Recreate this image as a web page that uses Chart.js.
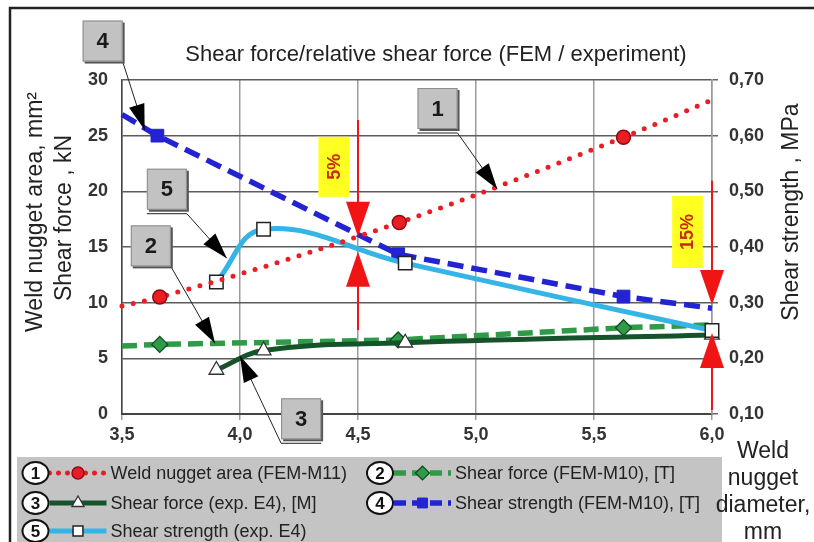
<!DOCTYPE html>
<html>
<head>
<meta charset="utf-8">
<script src="https://cdn.jsdelivr.net/npm/chart.js@4.4.1/dist/chart.umd.min.js"></script>
<style>
  html, body { margin: 0; padding: 0; background: #fff; }
  #wrap { width: 814px; height: 542px; }
</style>
</head>
<body>
<div id="wrap"><canvas id="shearChart" width="814" height="542"></canvas></div>
<script>
// weld nugget diameter (mm) -> values
const areaX = [3.5, 3.66, 4.675, 5.625, 6.0];
const areaY = [9.7, 10.5, 17.2, 24.85, 28.2];            // mm2, FEM-M11
const forceFemX = [3.5, 3.66, 4.67, 5.625, 6.0];
const forceFemY = [6.1, 6.25, 6.65, 7.75, 8.0];           // kN, FEM-M10
const forceExpX = [3.9, 4.1, 4.7, 6.0];
const forceExpY = [3.95, 5.7, 6.4, 7.1];                  // kN, exp. E4
const strengthFemX = [3.5, 3.65, 4.67, 5.625, 6.0];
const strengthFemY = [0.638, 0.60, 0.387, 0.311, 0.29];   // MPa, FEM-M10
const strengthExpX = [3.9, 4.1, 4.7, 6.0];
const strengthExpY = [0.337, 0.432, 0.371, 0.25];         // MPa, exp. E4

const xTicks = [3.5, 4.0, 4.5, 5.0, 5.5, 6.0];
const leftTicks = [0, 5, 10, 15, 20, 25, 30];
const rightTicks = [0.1, 0.2, 0.3, 0.4, 0.5, 0.6, 0.7];

const FONT = '"Liberation Sans", Arial, sans-serif';
const comma = (v, d) => v.toFixed(d).replace('.', ',');
const pts = (xs, ys) => xs.map((x, i) => ({ x: x, y: ys[i] }));

const RED = '#ec1c24', GREEN = '#2f9a48', DKGREEN = '#17532a', BLUE = '#2323d2', LBLUE = '#35b4e6';

// callout boxes (numbers) and the gap arrows, placed in data units
const callouts = [
  { n: '4', at: [3.418, 33.5], tip: [3.596, 25.5], from: 'br', shelf: false },
  { n: '1', at: [4.837, 27.44], tip: [5.09, 20.2], from: 'br', shelf: true },
  { n: '5', at: [3.69, 20.19], tip: [3.944, 13.99], from: 'br', shelf: true },
  { n: '2', at: [3.622, 15.1], tip: [3.894, 6.35], from: 'br', shelf: false },
  { n: '3', at: [4.259, -0.43], tip: [4.0, 5.2], from: 'bl', shelf: true }
];
const gapArrows = [
  { x: 4.5, top: 26.4, upTip: 15.93, lowTip: 14.58, bottom: 7.55, label: '5%', box: [4.332, 4.464, 24.9, 19.5] },
  { x: 6.0, top: 20.96, upTip: 9.79, lowTip: 7.28, bottom: 0.36, label: '15%', box: [5.831, 5.961, 19.58, 13.11] }
];

const datasets = [
  {
    label: 'Weld nugget area (FEM-M11)', data: pts(areaX, areaY), yAxisID: 'y', order: 0,
    borderColor: RED, borderWidth: 5, borderDash: [0, 11.5], borderCapStyle: 'round',
    cubicInterpolationMode: 'monotone',
    pointStyle: 'circle', pointRadius: [0, 7, 7, 7, 0], pointBackgroundColor: RED,
    pointBorderColor: '#8a0c10', pointBorderWidth: 1.5
  },
  {
    label: 'Shear force (FEM-M10), [T]', data: pts(forceFemX, forceFemY), yAxisID: 'y', order: 3,
    borderColor: GREEN, borderWidth: 5.5, borderDash: [15, 7], tension: 0,
    pointStyle: 'rectRot', pointRadius: [0, 8, 8, 8, 0], pointBackgroundColor: GREEN,
    pointBorderColor: '#0e4a1e', pointBorderWidth: 1.2
  },
  {
    label: 'Shear force (exp. E4), [M]', data: pts(forceExpX, forceExpY), yAxisID: 'y', order: 2,
    borderColor: DKGREEN, borderWidth: 5, tension: 0.4,
    pointStyle: 'triangle', pointRadius: 8.5, pointBackgroundColor: '#fff',
    pointBorderColor: '#333', pointBorderWidth: 1.3
  },
  {
    label: 'Shear strength (FEM-M10), [T]', data: pts(strengthFemX, strengthFemY), yAxisID: 'y2', order: 4,
    borderColor: BLUE, borderWidth: 5.5, borderDash: [16, 8], tension: 0,
    pointStyle: 'rect', pointRadius: [0, 9, 9, 9, 0], pointBackgroundColor: BLUE,
    pointBorderColor: BLUE, pointBorderWidth: 1
  },
  {
    label: 'Shear strength (exp. E4)', data: pts(strengthExpX, strengthExpY), yAxisID: 'y2', order: 1,
    borderColor: LBLUE, borderWidth: 5, tension: 0.4,
    pointStyle: 'rect', pointRadius: 9.5, pointBackgroundColor: '#fff',
    pointBorderColor: '#222', pointBorderWidth: 1.5
  }
];
datasets.forEach(d => { d.clip = false; d.fill = false; });

const decor = {
  id: 'decor',
  afterDraw(chart) {
    const ctx = chart.ctx, sx = chart.scales.x, sy = chart.scales.y;
    const px = v => sx.getPixelForValue(v), py = v => sy.getPixelForValue(v);

    function head(tx, ty, fx, fy, len, half, color) {
      const a = Math.atan2(ty - fy, tx - fx), c = Math.cos(a), s = Math.sin(a);
      ctx.beginPath();
      ctx.moveTo(tx, ty);
      ctx.lineTo(tx - len * c + half * s, ty - len * s - half * c);
      ctx.lineTo(tx - len * c - half * s, ty - len * s + half * c);
      ctx.closePath();
      ctx.fillStyle = color;
      ctx.fill();
    }
    function vText(t, x, y) {
      ctx.save(); ctx.translate(x, y); ctx.rotate(-Math.PI / 2);
      ctx.textAlign = 'center'; ctx.fillText(t, 0, 0); ctx.restore();
    }

    ctx.save();
    // frame
    ctx.strokeStyle = '#222'; ctx.lineWidth = 2.5;
    ctx.beginPath(); ctx.moveTo(10, 542); ctx.lineTo(10, 8); ctx.lineTo(814, 8); ctx.stroke();

    // legend block
    ctx.fillStyle = '#c4c4c4';
    ctx.fillRect(17, 457, 705, 90);
    const entries = [
      { n: '1', ds: 0, cx: 35.5, y: 473 },
      { n: '3', ds: 2, cx: 35.5, y: 503 },
      { n: '5', ds: 4, cx: 35.5, y: 531 },
      { n: '2', ds: 1, cx: 380, y: 473 },
      { n: '4', ds: 3, cx: 380, y: 503 }
    ];
    entries.forEach(e => {
      const d = datasets[e.ds];
      const x0 = e.cx + 14, x1 = e.cx + 71;
      ctx.save();
      ctx.strokeStyle = d.borderColor; ctx.lineWidth = d.borderWidth;
      ctx.setLineDash(d.borderDash ? (e.ds === 0 ? [0, 9] : [12, 6]) : []);
      ctx.lineCap = d.borderCapStyle || 'butt';
      ctx.beginPath(); ctx.moveTo(x0, e.y); ctx.lineTo(x1, e.y); ctx.stroke();
      ctx.restore();
      ctx.fillStyle = d.pointBackgroundColor; ctx.strokeStyle = d.pointBorderColor;
      ctx.lineWidth = d.pointBorderWidth;
      Chart.helpers.drawPoint(ctx, { pointStyle: d.pointStyle, radius: d.pointStyle === 'circle' ? 6 : 7, rotation: 0, borderWidth: d.pointBorderWidth }, (x0 + x1) / 2, e.y);
      ctx.beginPath(); ctx.ellipse(e.cx, e.y, 13, 11, 0, 0, Math.PI * 2);
      ctx.fillStyle = '#fff'; ctx.fill();
      ctx.strokeStyle = '#111'; ctx.lineWidth = 2; ctx.stroke();
      ctx.fillStyle = '#111'; ctx.font = 'bold 17px ' + FONT;
      ctx.textAlign = 'center'; ctx.textBaseline = 'middle';
      ctx.fillText(e.n, e.cx, e.y + 1);
      ctx.fillStyle = '#222'; ctx.font = '18px ' + FONT; ctx.textAlign = 'left';
      ctx.fillText(d.label, x1 + 4, e.y + 1);
    });

    // titles
    ctx.fillStyle = '#222';
    ctx.font = '22px ' + FONT;
    ctx.textAlign = 'center'; ctx.textBaseline = 'alphabetic';
    ctx.fillText('Shear force/relative shear force (FEM / experiment)', 436, 61);
    ctx.font = '23px ' + FONT;
    vText('Weld nugget area, mm\u00b2', 42, 212);
    vText('Shear force , kN', 71, 218);
    vText('Shear strength , MPa', 798, 212);
    ['Weld', 'nugget', 'diameter,', 'mm'].forEach((t, i) => ctx.fillText(t, 763, 458 + i * 27));

    // red gap arrows with yellow labels
    gapArrows.forEach(g => {
      const x = px(g.x);
      ctx.fillStyle = '#ffff22';
      const bx0 = px(g.box[0]), bx1 = px(g.box[1]), by0 = py(g.box[2]), by1 = py(g.box[3]);
      ctx.fillRect(bx0, by0, bx1 - bx0, by1 - by0);
      ctx.fillStyle = '#c8280c';
      ctx.font = 'bold 18px ' + FONT;
      ctx.textBaseline = 'middle';
      vText(g.label, (bx0 + bx1) / 2 + 1, (by0 + by1) / 2);
      ctx.textBaseline = 'alphabetic';
      ctx.strokeStyle = '#f01414'; ctx.lineWidth = 2;
      ctx.beginPath();
      ctx.moveTo(x, py(g.top)); ctx.lineTo(x, py(g.upTip) - 30);
      ctx.moveTo(x, py(g.lowTip) + 30); ctx.lineTo(x, py(g.bottom));
      ctx.stroke();
      head(x, py(g.upTip), x, py(g.top), 35, 12, '#f01414');
      head(x, py(g.lowTip), x, py(g.bottom), 35, 12, '#f01414');
    });

    // numbered callouts
    callouts.forEach(c => {
      const cx = px(c.at[0]), cy = py(c.at[1]);
      const l = cx - 20, r = cx + 20, t = cy - 20.5, b = cy + 20.5;
      const sxp = c.from === 'br' ? r : l;
      const syp = c.shelf ? b + 4 : b;
      const tx = px(c.tip[0]), ty = py(c.tip[1]);
      ctx.strokeStyle = '#222'; ctx.lineWidth = 1;
      ctx.beginPath();
      if (c.shelf) { ctx.moveTo(l, syp); ctx.lineTo(r, syp); }
      ctx.moveTo(sxp, syp); ctx.lineTo(tx, ty);
      ctx.stroke();
      head(tx, ty, sxp, syp, 26, 8, '#000');
      ctx.fillStyle = '#555'; ctx.fillRect(l + 2, t + 2, 40, 41);
      ctx.fillStyle = '#c2c2c2'; ctx.fillRect(l, t, 40, 41);
      ctx.strokeStyle = '#8c8c8c'; ctx.strokeRect(l + 0.5, t + 0.5, 39, 40);
      ctx.fillStyle = '#1a1a1a'; ctx.font = 'bold 22px ' + FONT;
      ctx.textAlign = 'center'; ctx.textBaseline = 'middle';
      ctx.fillText(c.n, cx, cy + 1);
    });
    ctx.restore();
  }
};

new Chart(document.getElementById('shearChart').getContext('2d'), {
  type: 'line',
  data: { datasets: datasets },
  options: {
    responsive: false,
    animation: false,
    devicePixelRatio: 1,
    layout: { padding: { top: 80, left: 0, right: 0, bottom: 0 } },
    plugins: { legend: { display: false }, tooltip: { enabled: false }, title: { display: false } },
    scales: {
      x: {
        type: 'linear', min: 3.5, max: 6.0,
        afterBuildTicks: s => { s.ticks = xTicks.map(v => ({ value: v })); },
        afterFit: s => { s.height = 128; },
        grid: { color: '#9c9c9c', lineWidth: 1.5, tickLength: 6 },
        border: { color: '#444', width: 2 },
        ticks: { padding: 4, color: '#333', font: { family: FONT, size: 18, weight: 'bold' }, callback: v => comma(v, 1) }
      },
      y: {
        type: 'linear', position: 'left', min: 0, max: 30,
        afterBuildTicks: s => { s.ticks = leftTicks.map(v => ({ value: v })); },
        afterFit: s => { s.width = 122; },
        grid: { color: '#5c5c5c', lineWidth: 1.5, drawTicks: false },
        border: { color: '#444', width: 1.5 },
        ticks: { padding: 14, color: '#333', font: { family: FONT, size: 18, weight: 'bold' }, callback: v => String(v) }
      },
      y2: {
        type: 'linear', position: 'right', min: 0.1, max: 0.7,
        afterBuildTicks: s => { s.ticks = rightTicks.map(v => ({ value: v })); },
        afterFit: s => { s.width = 102; },
        grid: { drawOnChartArea: false, color: '#666', tickLength: 6, lineWidth: 1.5 },
        border: { color: '#999', width: 1.5 },
        ticks: { padding: 11, color: '#333', font: { family: FONT, size: 18, weight: 'bold' }, callback: v => comma(v, 2) }
      }
    }
  },
  plugins: [decor]
});
</script>
</body>
</html>
